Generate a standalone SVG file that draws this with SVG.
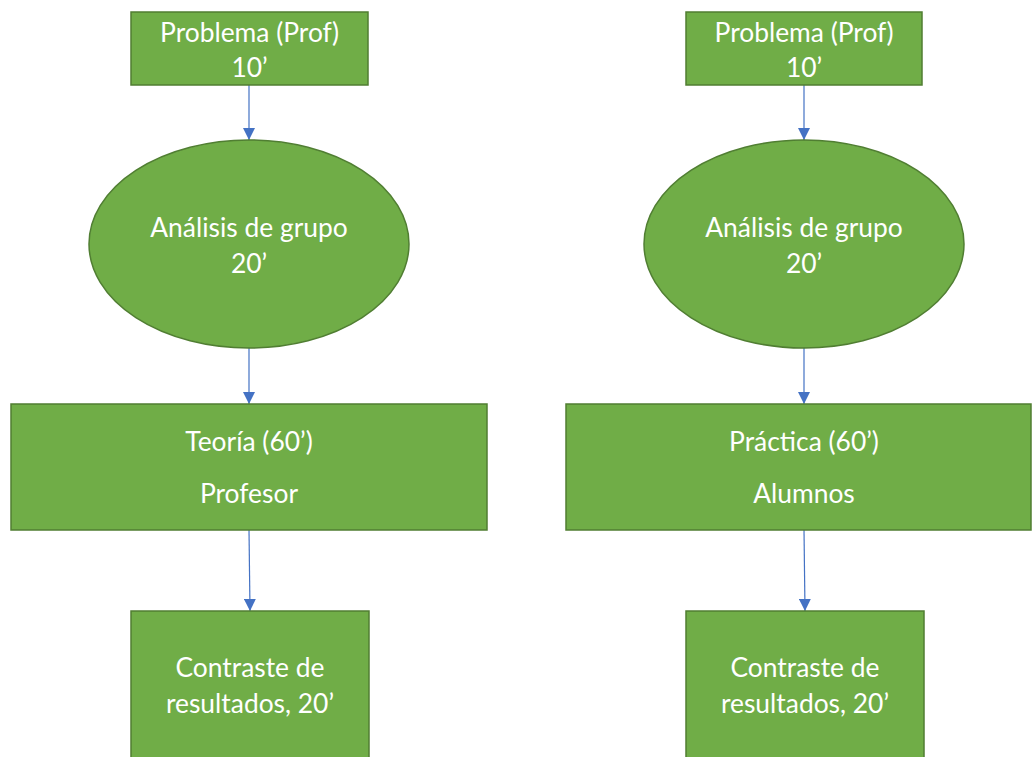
<svg xmlns="http://www.w3.org/2000/svg" width="1032" height="757" viewBox="0 0 1032 757">
  <style>
    .shape { fill: #70AD47; stroke: #507E32; stroke-width: 1.5; }
    .label { font-family: Lato, "Open Sans", "Liberation Sans", sans-serif; font-size: 26.4px; fill: #FFFFFF; text-anchor: middle; }
    .conn { stroke: #4472C4; stroke-width: 1.2; fill: none; marker-end: url(#arrow); }
  </style>
  <defs>
    <marker id="arrow" viewBox="0 0 12 12" refX="12" refY="6" markerWidth="12" markerHeight="12" markerUnits="userSpaceOnUse" orient="auto">
      <path d="M0,0 L12,6 L0,12 z" fill="#4472C4"/>
    </marker>
  </defs>
  <rect width="1032" height="757" fill="#FFFFFF"/>

  <g id="connectors">
    <line class="conn" x1="249" y1="85" x2="249" y2="140"/>
    <line class="conn" x1="249" y1="348" x2="249" y2="404"/>
    <line class="conn" x1="249" y1="530" x2="250" y2="611"/>
    <line class="conn" x1="804" y1="85" x2="804" y2="140"/>
    <line class="conn" x1="804" y1="348" x2="804" y2="404"/>
    <line class="conn" x1="804" y1="530" x2="805" y2="611"/>
  </g>

  <!-- left column -->
  <g id="problema-left">
    <rect class="shape" x="131" y="12" width="237" height="73"/>
    <text class="label" x="249.5" y="42">Problema (Prof)</text>
    <text class="label" x="249.5" y="77">10’</text>
  </g>
  <g id="analisis-left">
    <ellipse class="shape" cx="249" cy="244" rx="160" ry="104"/>
    <text class="label" x="249" y="237">Análisis de grupo</text>
    <text class="label" x="249" y="273">20’</text>
  </g>
  <g id="teoria">
    <rect class="shape" x="11" y="404" width="476" height="126"/>
    <text class="label" x="249" y="451">Teoría (60’)</text>
    <text class="label" x="249" y="503">Profesor</text>
  </g>
  <g id="contraste-left">
    <rect class="shape" x="131" y="611" width="238" height="160"/>
    <text class="label" x="250" y="677">Contraste de</text>
    <text class="label" x="250" y="713">resultados, 20’</text>
  </g>

  <!-- right column -->
  <g id="problema-right">
    <rect class="shape" x="686" y="12" width="236" height="73"/>
    <text class="label" x="804" y="42">Problema (Prof)</text>
    <text class="label" x="804" y="77">10’</text>
  </g>
  <g id="analisis-right">
    <ellipse class="shape" cx="804" cy="244" rx="160" ry="104"/>
    <text class="label" x="804" y="237">Análisis de grupo</text>
    <text class="label" x="804" y="273">20’</text>
  </g>
  <g id="practica">
    <rect class="shape" x="566" y="404" width="465" height="126"/>
    <text class="label" x="804" y="451">Práctica (60’)</text>
    <text class="label" x="804" y="503">Alumnos</text>
  </g>
  <g id="contraste-right">
    <rect class="shape" x="686" y="611" width="238" height="160"/>
    <text class="label" x="805" y="677">Contraste de</text>
    <text class="label" x="805" y="713">resultados, 20’</text>
  </g>
</svg>
